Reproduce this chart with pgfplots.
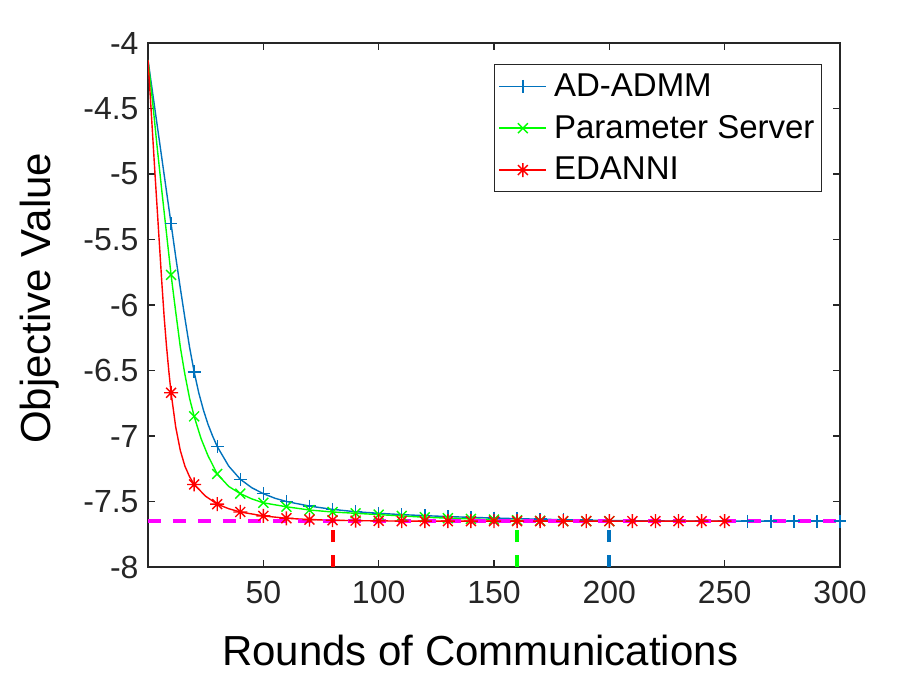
\documentclass[border=0pt]{standalone}
\usepackage{fontspec}
\setmainfont{Liberation Sans}
\usepackage{pgfplots}
\pgfplotsset{compat=1.18}
\usetikzlibrary{plotmarks}
\definecolor{mblue}{rgb}{0,0.447,0.741}
\definecolor{mgreen}{rgb}{0,1,0}
\definecolor{mred}{rgb}{1,0,0}
\definecolor{mmag}{rgb}{1,0,1}
\definecolor{axgray}{rgb}{0.15,0.15,0.15}
\pgfdeclareplotmark{mstar}{%
  \pgfpathmoveto{\pgfqpoint{0pt}{-\pgfplotmarksize}}\pgfpathlineto{\pgfqpoint{0pt}{\pgfplotmarksize}}%
  \pgfpathmoveto{\pgfqpoint{-\pgfplotmarksize}{0pt}}\pgfpathlineto{\pgfqpoint{\pgfplotmarksize}{0pt}}%
  \pgfpathmoveto{\pgfqpoint{-.7071\pgfplotmarksize}{-.7071\pgfplotmarksize}}\pgfpathlineto{\pgfqpoint{.7071\pgfplotmarksize}{.7071\pgfplotmarksize}}%
  \pgfpathmoveto{\pgfqpoint{-.7071\pgfplotmarksize}{.7071\pgfplotmarksize}}\pgfpathlineto{\pgfqpoint{.7071\pgfplotmarksize}{-.7071\pgfplotmarksize}}%
  \pgfusepathqstroke}
\begin{document}
\begin{tikzpicture}
\path[use as bounding box] (0,0) rectangle (454pt,343.5pt);
\begin{axis}[
  at={(74pt,60pt)}, anchor=south west,
  scale only axis, width=346pt, height=262pt,
  xmin=0, xmax=300, ymin=-8, ymax=-4,
  xtick={50,100,150,200,250,300},
  xticklabels={50,100,150,200,250,300},
  ytick={-8,-7.5,-7,-6.5,-6,-5.5,-5,-4.5,-4},
  yticklabels={-8,-7.5,-7,-6.5,-6,-5.5,-5,-4.5,-4},
  tick align=inside, major tick length=3.5pt,
  axis line style={axgray, line width=0.6pt},
  every tick/.style={axgray, line width=0.6pt},
  tick label style={font=\fontsize{16}{19}\selectfont, text=axgray},
  xticklabel style={yshift=-3.5pt},
  yticklabel style={xshift=-1.2pt},
  xlabel={Rounds of Communications},
  ylabel={Objective Value},
  label style={font=\fontsize{21}{25}\selectfont},
  xlabel style={at={(axis description cs:0.48,-0.160)}, anchor=center},
  ylabel style={at={(axis description cs:-0.156,0.513)}, anchor=center},
  legend style={at={(rel axis cs:0.974,0.96)}, anchor=north east, draw=axgray, line width=0.5pt, fill=white,
    font=\fontsize{16.5}{19}\selectfont, inner xsep=2pt, inner ysep=3pt, row sep=5pt, column sep=2pt,
    nodes={inner sep=1.5pt}},
  legend cell align=left,
  legend image code/.code={\draw[#1] (0pt,0pt) -- (23.5pt,0pt); \draw[#1] plot coordinates {(11.75pt,0pt)};},
]
% AD-ADMM line
\addplot[mblue, line width=0.7pt, forget plot] coordinates {
(0,-4.13)(2,-4.38)(4,-4.63)(6,-4.88)(8,-5.13)(10,-5.38)(12,-5.63)(14,-5.87)(16,-6.10)(18,-6.32)(20,-6.51)
(22,-6.67)(24,-6.80)(26,-6.91)(28,-7.00)(30,-7.08)(35,-7.23)(40,-7.33)(45,-7.395)(50,-7.44)(55,-7.475)(60,-7.50)
(70,-7.535)(80,-7.56)(90,-7.578)(100,-7.59)(110,-7.60)(120,-7.608)(130,-7.615)(140,-7.621)(150,-7.626)
(160,-7.631)(170,-7.635)(180,-7.639)(190,-7.642)(200,-7.645)(220,-7.648)(240,-7.65)(300,-7.65)};
% Parameter Server line
\addplot[mgreen, line width=0.7pt, forget plot] coordinates {
(0,-4.13)(2,-4.45)(4,-4.80)(6,-5.13)(8,-5.45)(10,-5.77)(12,-6.05)(14,-6.32)(16,-6.53)(18,-6.71)(20,-6.85)
(23,-7.02)(26,-7.15)(30,-7.29)(35,-7.385)(40,-7.44)(45,-7.48)(50,-7.51)(60,-7.54)(70,-7.565)(80,-7.58)
(90,-7.59)(100,-7.60)(110,-7.61)(120,-7.62)(130,-7.627)(140,-7.633)(150,-7.638)(160,-7.643)(170,-7.647)
(180,-7.65)(200,-7.65)};
% EDANNI line
\addplot[mred, line width=0.7pt, forget plot] coordinates {
(0,-4.13)(1,-4.41)(2,-4.70)(3,-4.99)(4,-5.27)(5,-5.55)(6,-5.83)(7,-6.09)(8,-6.31)(9,-6.50)(10,-6.67)
(12,-6.93)(14,-7.11)(16,-7.23)(18,-7.31)(20,-7.37)(25,-7.46)(30,-7.52)(35,-7.555)(40,-7.58)(50,-7.61)
(60,-7.628)(70,-7.638)(80,-7.643)(90,-7.646)(100,-7.648)(120,-7.65)(250,-7.65)};
% markers
\addplot[mblue, line width=0.7pt, only marks, mark=+, mark size=3.2pt] coordinates {
(10,-5.38)(20,-6.51)(30,-7.08)(40,-7.33)(50,-7.44)(60,-7.50)(70,-7.535)(80,-7.56)(90,-7.578)(100,-7.59)
(110,-7.60)(120,-7.608)(130,-7.615)(140,-7.621)(150,-7.626)(160,-7.631)(170,-7.635)(180,-7.639)(190,-7.642)
(200,-7.645)(210,-7.647)(220,-7.648)(230,-7.649)(240,-7.65)(250,-7.65)(260,-7.65)(270,-7.65)(280,-7.65)(290,-7.65)(300,-7.65)};
\addlegendentry{AD-ADMM}
\addplot[mgreen, line width=0.7pt, only marks, mark=x, mark size=3.5pt] coordinates {
(10,-5.77)(20,-6.85)(30,-7.29)(40,-7.44)(50,-7.51)(60,-7.54)(70,-7.565)(80,-7.58)(90,-7.59)(100,-7.60)
(110,-7.61)(120,-7.62)(130,-7.627)(140,-7.633)(150,-7.638)(160,-7.643)(170,-7.647)(180,-7.65)(190,-7.65)(200,-7.65)};
\addlegendentry{Parameter Server}
\addplot[mred, line width=0.7pt, only marks, mark=mstar, mark size=3.5pt] coordinates {
(10,-6.67)(20,-7.37)(30,-7.52)(40,-7.58)(50,-7.61)(60,-7.628)(70,-7.638)(80,-7.643)(90,-7.646)(100,-7.648)
(110,-7.65)(120,-7.65)(130,-7.65)(140,-7.65)(150,-7.65)(160,-7.65)(170,-7.65)(180,-7.65)(190,-7.65)(200,-7.65)
(210,-7.65)(220,-7.65)(230,-7.65)(240,-7.65)(250,-7.65)};
\addlegendentry{EDANNI}
% reference lines
\addplot[mmag, line width=2.25pt, dash pattern=on 6.5pt off 6pt, forget plot] coordinates {(0,-7.65)(300,-7.65)};
\addplot[mred, line width=2pt, dash pattern=on 6pt off 6.5pt, forget plot] coordinates {(80,-8)(80,-7.65)};
\addplot[mgreen, line width=2pt, dash pattern=on 6pt off 6.5pt, forget plot] coordinates {(160,-8)(160,-7.65)};
\addplot[mblue, line width=2pt, dash pattern=on 6pt off 6.5pt, forget plot] coordinates {(200,-8)(200,-7.65)};
\end{axis}
\end{tikzpicture}
\end{document}
